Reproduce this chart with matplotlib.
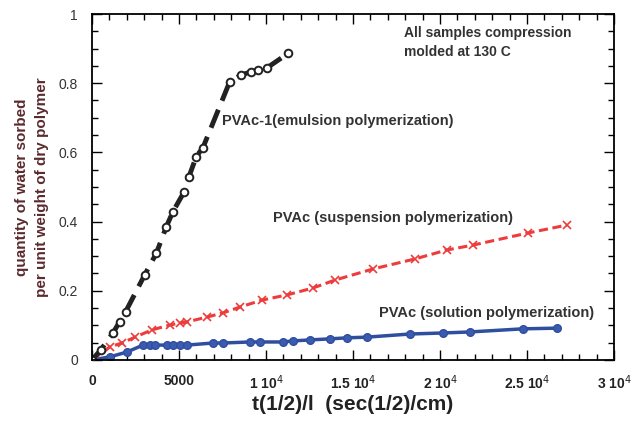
import numpy as np
import matplotlib.pyplot as plt
from matplotlib.ticker import MultipleLocator, FixedLocator

plt.rcParams['font.family'] = ['Liberation Sans', 'DejaVu Sans']

# emulsion (black, open circles)
emul_x = [0, 500, 1207, 1592, 1937, 3029, 3695, 4270, 4655, 5287, 5574, 5994,
          6379, 7914, 8580, 9155, 9540, 10075, 11264]
emul_y = [0.0, 0.029, 0.078, 0.111, 0.140, 0.246, 0.308, 0.385, 0.429, 0.485,
          0.530, 0.588, 0.614, 0.804, 0.824, 0.833, 0.838, 0.845, 0.886]

# suspension (red, x)
susp_x = [0, 1034, 1724, 2471, 3448, 4483, 5057, 5460, 6609, 7529, 8506, 9770,
          11207, 12701, 13966, 16149, 18563, 20402, 21897, 25057, 27299]
susp_y = [0.0, 0.038, 0.049, 0.066, 0.087, 0.101, 0.107, 0.110, 0.124, 0.136,
          0.153, 0.173, 0.188, 0.208, 0.231, 0.263, 0.292, 0.318, 0.332, 0.367, 0.390]

# solution (blue, filled circles)
sol_x = [0, 1034, 2011, 2931, 3333, 3621, 4310, 4655, 5057, 5460, 6954, 7529,
         9080, 9655, 10977, 11552, 12529, 13678, 14655, 15805, 18276, 20172,
         21724, 24770, 26724]
sol_y = [0.0, 0.009, 0.023, 0.043, 0.043, 0.043, 0.043, 0.043, 0.043, 0.043,
         0.049, 0.049, 0.052, 0.052, 0.052, 0.055, 0.058, 0.061, 0.064, 0.066,
         0.075, 0.078, 0.081, 0.090, 0.092]

xticks = [0, 5000, 10000, 15000, 20000, 25000, 30000]
xtick_labels = ['0', '5000', '1 10$^{4}$', '1.5 10$^{4}$', '2 10$^{4}$',
                '2.5 10$^{4}$', '3 10$^{4}$']
yticks = [0, 0.2, 0.4, 0.6, 0.8, 1]
ytick_labels = ['0', '0.2', '0.4', '0.6', '0.8', '1']

fig = plt.figure(figsize=(6.31, 4.22), dpi=100)
ax = fig.add_axes([0.1458, 0.147, 0.8272, 0.8198])

ax.plot(sol_x, sol_y, '-', color='#2f4f9e', lw=2.5, marker='o', ms=5.5,
        mfc='#3a5bb0', mec='#2f4f9e')
ax.plot(susp_x, susp_y, '--', color='#ee3b3b', lw=2.2, dashes=(3, 1.5),
        marker='x', ms=5.5, mew=1.2)
ax.plot(emul_x, emul_y, '--', color='#222222', lw=3.5, dashes=(4, 2),
        marker='o', ms=5.5, mfc='white', mec='#222222', mew=1.4)

ax.set_xlim(0, 30000)
ax.set_ylim(0, 1)
ax.xaxis.set_major_locator(FixedLocator(xticks))
ax.xaxis.set_minor_locator(MultipleLocator(1000))
ax.yaxis.set_major_locator(FixedLocator(yticks))
ax.yaxis.set_minor_locator(MultipleLocator(0.05))
ax.set_xticklabels(xtick_labels, fontsize=10, fontweight='bold', color='#222222')
ax.set_yticklabels(ytick_labels, fontsize=10, color='#333333')
ax.tick_params(which='both', direction='in', top=True, right=True, width=1.0)
ax.tick_params(which='major', length=7, pad=10)
ax.tick_params(which='minor', length=4)
for s in ax.spines.values():
    s.set_linewidth(1.3)

ax.set_xlabel('t(1/2)/l  (sec(1/2)/cm)', fontsize=15, fontweight='bold',
              color='#222222', labelpad=2)
ax.set_ylabel('quantity of water sorbed\nper unit weight of dry polymer',
              fontsize=11, fontweight='bold', color='#5a2a2e', labelpad=7,
              linespacing=1.55)

ax.text(0.598, 0.965, 'All samples compression\nmolded at 130 C', transform=ax.transAxes,
        fontsize=10, fontweight='bold', color='#333333', va='top', linespacing=1.4)
ax.text(7500, 0.69, 'PVAc-1(emulsion polymerization)', fontsize=10.5,
        fontweight='bold', color='#333333', va='center')
ax.text(10400, 0.41, 'PVAc (suspension polymerization)', fontsize=10.5,
        fontweight='bold', color='#333333', va='center')
ax.text(16500, 0.136, 'PVAc (solution polymerization)', fontsize=10.5,
        fontweight='bold', color='#333333', va='center')

fig.savefig('out.png', dpi=100)
